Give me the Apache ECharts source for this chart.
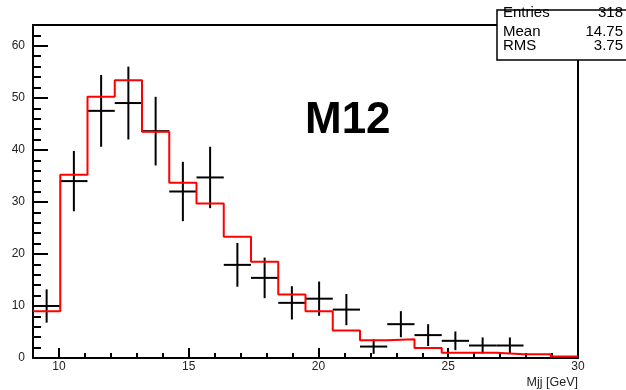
<!DOCTYPE html>
<html>
<head>
<meta charset="utf-8">
<script src="https://cdn.jsdelivr.net/npm/echarts@6/dist/echarts.min.js"></script>
<style>
  html, body { margin: 0; padding: 0; background: #fff; }
  #chart { width: 626px; height: 390px; }
</style>
</head>
<body>
<div id="chart"></div>
<script>
// bin edges of the Mjj histogram (20 bins, 9 -> 30 GeV)
const binEdges = [9, 10.05, 11.1, 12.15, 13.2, 14.25, 15.3, 16.35, 17.4, 18.45, 19.5,
  20.55, 21.6, 22.65, 23.7, 24.75, 25.8, 26.85, 27.9, 28.95, 30];
// red MC histogram contents
const mcValues = [9.0, 35.2, 50.2, 53.4, 43.5, 33.7, 29.7, 23.3, 18.5, 12.2,
  9.0, 5.3, 3.4, 3.6, 1.9, 1.0, 1.0, 0.7, 0.7, 0.3];
// black data points and their errors (empty bins are null)
const dataValues = [10, 34, 47.5, 49, 43.6, 32, 34.7, 17.9, 15.4, 10.6,
  11.4, 9.3, 2.2, 6.5, 4.4, 3.3, 2.4, 2.4, null, null];
const dataErrors = [3.2, 5.8, 6.9, 7.0, 6.6, 5.7, 5.9, 4.2, 3.9, 3.2,
  3.3, 3.0, 1.4, 2.5, 2.1, 1.8, 1.55, 1.55, null, null];

const xMajorTicks = [10, 15, 20, 25, 30];

const statLabels = ['Entries', 'Mean', 'RMS'];
const statValues = ['318', '14.75', '3.75'];

const FONT = '"Liberation Sans", Arial, Helvetica, sans-serif';

const chart = echarts.init(document.getElementById('chart'));

// step line: one point per lower edge, plus the last upper edge
const mcLine = mcValues.map((v, i) => [binEdges[i], v]);
mcLine.push([binEdges[binEdges.length - 1], mcValues[mcValues.length - 1]]);

const points = [];
dataValues.forEach((v, i) => {
  if (v === null) return;
  points.push([binEdges[i], binEdges[i + 1], (binEdges[i] + binEdges[i + 1]) / 2, v, dataErrors[i]]);
});

const option = {
  animation: false,
  backgroundColor: '#fff',
  grid: { left: 33, right: 48, top: 25, bottom: 32 },
  xAxis: [
    {
      type: 'value', min: 9, max: 30, position: 'bottom',
      axisLine: { onZero: false, lineStyle: { color: '#000', width: 2 } },
      axisTick: { inside: true, length: 10, customValues: xMajorTicks, lineStyle: { color: '#000', width: 2 } },
      axisLabel: { customValues: xMajorTicks, color: '#222', fontSize: 12, fontFamily: FONT, margin: 3 },
      splitLine: { show: false },
      name: 'Mjj [GeV]', nameLocation: 'end', nameGap: 0,
      nameTextStyle: { color: '#222', fontSize: 12.5, fontFamily: FONT, align: 'right', verticalAlign: 'top', padding: [18, 0, 0, 0] }
    },
    {
      type: 'value', min: 9, max: 30, interval: 1, position: 'bottom',
      axisLine: { show: false, onZero: false },
      axisTick: { inside: true, length: 5, lineStyle: { color: '#000', width: 2 } },
      axisLabel: { show: false },
      splitLine: { show: false }
    },
    {
      type: 'value', min: 9, max: 30, position: 'top',
      axisLine: { onZero: false, lineStyle: { color: '#000', width: 2 } },
      axisTick: { show: false }, axisLabel: { show: false }, splitLine: { show: false }
    }
  ],
  yAxis: [
    {
      type: 'value', min: 0, max: 64, interval: 10, position: 'left',
      axisLine: { onZero: false, lineStyle: { color: '#000', width: 2 } },
      axisTick: { inside: true, length: 15, lineStyle: { color: '#000', width: 2 } },
      axisLabel: { showMaxLabel: false, color: '#222', fontSize: 12, fontFamily: FONT, margin: 8 },
      splitLine: { show: false }
    },
    {
      type: 'value', min: 0, max: 64, interval: 2, position: 'left',
      axisLine: { show: false, onZero: false },
      axisTick: { inside: true, length: 8, lineStyle: { color: '#000', width: 2 } },
      axisLabel: { show: false },
      splitLine: { show: false }
    },
    {
      type: 'value', min: 0, max: 64, position: 'right',
      axisLine: { onZero: false, lineStyle: { color: '#000', width: 2 } },
      axisTick: { show: false }, axisLabel: { show: false }, splitLine: { show: false }
    }
  ],
  series: [
    {
      type: 'custom',
      xAxisIndex: 0, yAxisIndex: 0,
      z: 2,
      data: points,
      renderItem: (params, api) => {
        const lo = api.value(0), hi = api.value(1), c = api.value(2);
        const v = api.value(3), e = api.value(4);
        const left = api.coord([lo, v]);
        const right = api.coord([hi, v]);
        const top = api.coord([c, v + e]);
        const bottom = api.coord([c, Math.max(0, v - e)]);
        const style = { stroke: '#000', lineWidth: 2 };
        return {
          type: 'group',
          children: [
            { type: 'line', shape: { x1: left[0], y1: left[1], x2: right[0], y2: right[1] }, style },
            { type: 'line', shape: { x1: top[0], y1: top[1], x2: bottom[0], y2: bottom[1] }, style }
          ]
        };
      }
    },
    {
      type: 'line',
      xAxisIndex: 0, yAxisIndex: 0,
      z: 3,
      step: 'end',
      showSymbol: false,
      data: mcLine,
      lineStyle: { color: '#ff0000', width: 2 }
    }
  ],
  graphic: [
    {
      type: 'text', left: 305, top: 99, z: 10,
      style: { text: 'M12', fill: '#000', font: 'bold 44px ' + FONT }
    },
    {
      type: 'rect', z: 20,
      shape: { x: 497, y: 10, width: 140, height: 50 },
      style: { fill: '#fff', stroke: '#000', lineWidth: 1.5 }
    },
    ...statLabels.map((t, i) => ({
      type: 'text', z: 21, x: 503, y: [20, 39, 53][i],
      style: { text: t, fill: '#000', font: '15px ' + FONT, textVerticalAlign: 'bottom' }
    })),
    ...statValues.map((t, i) => ({
      type: 'text', z: 21, x: 623, y: [20, 39, 53][i],
      style: { text: t, fill: '#000', font: '15px ' + FONT, textAlign: 'right', textVerticalAlign: 'bottom' }
    }))
  ]
};

chart.setOption(option);
</script>
</body>
</html>
